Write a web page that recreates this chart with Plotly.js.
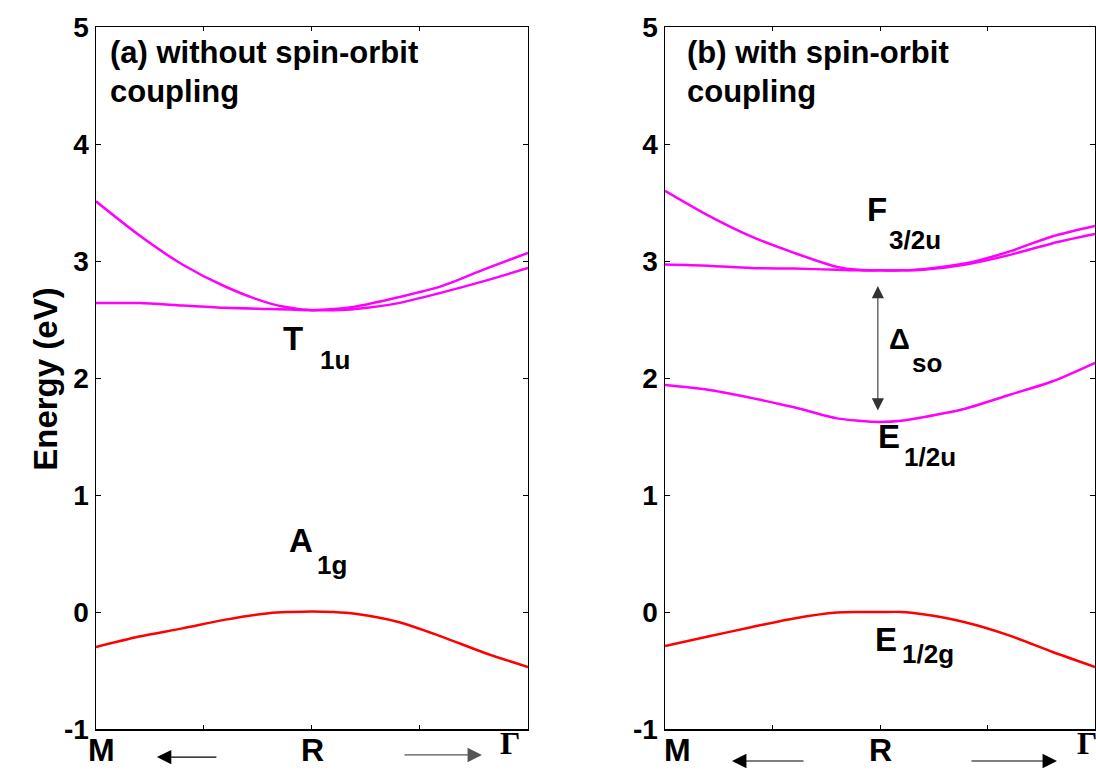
<!DOCTYPE html>
<html>
<head>
<meta charset="utf-8">
<script src="https://cdn.plot.ly/plotly-3.0.1.min.js"></script>
<style>
  html, body { margin: 0; padding: 0; background: #fff; }
  #plotContainer { width: 1096px; height: 770px; }
</style>
</head>
<body>
<div id="plotContainer"></div>
<script>
// k-path M -> R -> Gamma, normalised 0..1
var kPath = [0, 0.1, 0.2, 0.3, 0.4, 0.45, 0.5, 0.55, 0.6, 0.7, 0.8, 0.9, 1.0];

// (a) without spin-orbit coupling
var a1g = [-0.30, -0.21, -0.14, -0.065, -0.01, 0.0, 0.005, 0.0, -0.015, -0.085, -0.21, -0.35, -0.47];
var t1uUpper = [3.51, 3.22, 2.97, 2.78, 2.64, 2.60, 2.58, 2.59, 2.61, 2.69, 2.785, 2.93, 3.07];
var t1uLower = [2.64, 2.64, 2.62, 2.60, 2.59, 2.585, 2.58, 2.58, 2.59, 2.64, 2.73, 2.83, 2.94];

// (b) with spin-orbit coupling
var e12g = [-0.29, -0.21, -0.13, -0.055, -0.005, 0.0, 0.0, 0.0, -0.02, -0.09, -0.20, -0.34, -0.47];
var e12u = [1.94, 1.90, 1.83, 1.75, 1.655, 1.635, 1.625, 1.635, 1.665, 1.74, 1.855, 1.97, 2.13];
var f32uUpper = [3.60, 3.39, 3.21, 3.07, 2.95, 2.925, 2.92, 2.92, 2.93, 2.98, 3.08, 3.21, 3.30];
var f32uLower = [2.97, 2.96, 2.94, 2.935, 2.925, 2.92, 2.92, 2.92, 2.925, 2.97, 3.05, 3.15, 3.23];

var yTickVals = [-1, 0, 1, 2, 3, 4, 5];
var yTickText = ["-1", "0", "1", "2", "3", "4", "5"];
var kTickVals = [0.25, 0.5, 0.75];

var MAGENTA = "#ff00ff";
var RED = "#ff0000";
var SANS = "Liberation Sans, Arial, sans-serif";
var SERIF = "Liberation Serif, Times New Roman, serif";

function band(y, color, xa, ya) {
  return {
    x: kPath, y: y, xaxis: xa, yaxis: ya,
    mode: "lines", type: "scatter",
    line: { color: color, width: 2.5, shape: "spline", smoothing: 0.8 },
    hoverinfo: "skip", showlegend: false,
  };
}

var data = [
  band(a1g, RED, "x", "y"),
  band(t1uUpper, MAGENTA, "x", "y"),
  band(t1uLower, MAGENTA, "x", "y"),
  band(e12g, RED, "x2", "y2"),
  band(e12u, MAGENTA, "x2", "y2"),
  band(f32uUpper, MAGENTA, "x2", "y2"),
  band(f32uLower, MAGENTA, "x2", "y2"),
];

function xAxisStyle(domain, anchor) {
  return {
    domain: domain, anchor: anchor, range: [0, 1],
    showline: true, linecolor: "#000", linewidth: 1.5, mirror: "ticks",
    ticks: "inside", tickvals: kTickVals, ticklen: 4, tickcolor: "#000", tickwidth: 1,
    showticklabels: false, showgrid: false, zeroline: false, fixedrange: true,
  };
}

function yAxisStyle(anchor) {
  return {
    domain: [0, 1], anchor: anchor, range: [-1, 5],
    showline: true, linecolor: "#000", linewidth: 1.5, mirror: "ticks",
    ticks: "inside", tickvals: yTickVals, ticktext: yTickText, ticklen: 5,
    tickcolor: "#000", tickwidth: 1,
    tickfont: { family: SANS, size: 28, color: "#000", weight: "bold" },
    showgrid: false, zeroline: false, fixedrange: true,
  };
}

function txt(xr, yr, x, y, text, size, xanchor, family) {
  return {
    xref: xr, yref: yr, x: x, y: y, text: text, showarrow: false,
    xanchor: xanchor || "center", yanchor: "middle",
    font: { family: family || SANS, size: size, color: "#000", weight: "bold" },
  };
}

// arrow below the axis: tip in data x / paper y, tail as a pixel offset
function kArrow(xr, xTip, yPaper, dx, color) {
  return {
    xref: xr, yref: "paper", x: xTip, y: yPaper,
    axref: "pixel", ayref: "pixel", ax: dx, ay: 0, text: "",
    showarrow: true, arrowhead: 2, arrowsize: 2.4, arrowwidth: 1.2, arrowcolor: color,
  };
}

var annotations = [
  // panel titles
  txt("x", "y", 0.028, 4.78, "(a) without spin-orbit", 31, "left"),
  txt("x", "y", 0.028, 4.45, "coupling", 31, "left"),
  txt("x2", "y2", 0.047, 4.78, "(b) with spin-orbit", 31, "left"),
  txt("x2", "y2", 0.047, 4.45, "coupling", 31, "left"),
  // y axis title
  {
    xref: "paper", yref: "y", x: -0.071, y: 1.99, textangle: -90, showarrow: false,
    text: "Energy (eV)", font: { family: SANS, size: 33, color: "#000", weight: "bold" },
  },
  // band labels, panel (a)
  txt("x", "y", 0.455, 2.34, "T", 33),
  txt("x", "y", 0.515, 2.15, "1u", 26, "left"),
  txt("x", "y", 0.475, 0.607, "A", 33),
  txt("x", "y", 0.508, 0.40, "1g", 26, "left"),
  // band labels, panel (b)
  txt("x2", "y2", 0.4919, 3.436, "F", 33),
  txt("x2", "y2", 0.5163, 3.18, "3/2u", 26, "left"),
  txt("x2", "y2", 0.5442, 2.333, "\u0394", 29),
  txt("x2", "y2", 0.5698, 2.13, "so", 26, "left"),
  txt("x2", "y2", 0.5209, 1.504, "E", 33),
  txt("x2", "y2", 0.5512, 1.325, "1/2u", 26, "left"),
  txt("x2", "y2", 0.514, -0.231, "E", 33),
  txt("x2", "y2", 0.5465, -0.36, "1/2g", 26, "left"),
  // k-point labels
  txt("x", "paper", 0.0116, -0.03, "M", 32),
  txt("x", "paper", 0.502, -0.03, "R", 32),
  txt("x", "paper", 0.958, -0.02, "\u0393", 32, "center", SERIF),
  txt("x2", "paper", 0.030, -0.03, "M", 32),
  txt("x2", "paper", 0.5, -0.03, "R", 32),
  txt("x2", "paper", 0.981, -0.02, "\u0393", 32, "center", SERIF),
  // direction arrows
  kArrow("x", 0.141, -0.04, 61, "#000"),
  kArrow("x", 0.8935, -0.037, -79, "#555"),
  kArrow("x2", 0.1558, -0.0456, 73, "#000"),
  kArrow("x2", 0.9116, -0.0456, -87, "#000"),
  // spin-orbit splitting
  {
    xref: "x2", yref: "y2", axref: "x2", ayref: "y2",
    x: 0.495, y: 2.786, ax: 0.495, ay: 1.71, text: "",
    showarrow: true, arrowhead: 2, arrowsize: 2.2, arrowwidth: 1.1,
    arrowcolor: "#333", arrowside: "end+start",
  },
];

var layout = {
  width: 1096, height: 770,
  margin: { l: 96, r: 1, t: 27, b: 41 },
  paper_bgcolor: "#fff", plot_bgcolor: "#fff",
  showlegend: false,
  xaxis: xAxisStyle([0, 0.4324], "y"),
  yaxis: yAxisStyle("x"),
  xaxis2: xAxisStyle([0.5696, 1], "y2"),
  yaxis2: yAxisStyle("x2"),
  annotations: annotations,
};

var config = { staticPlot: true };

Plotly.newPlot("plotContainer", data, layout, config);
</script>
</body>
</html>
